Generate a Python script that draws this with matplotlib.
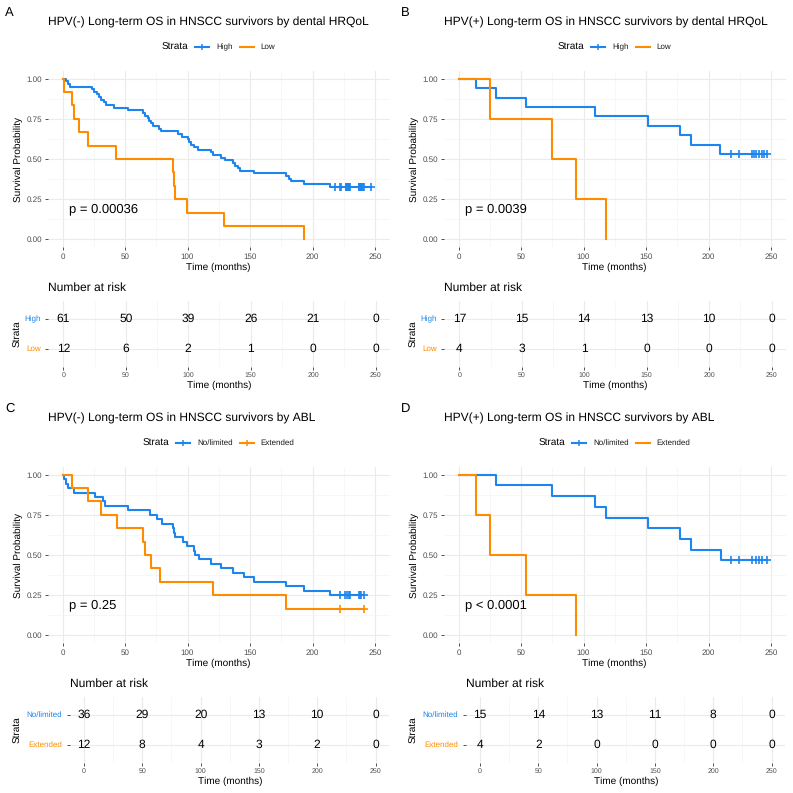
"""
Kaplan-Meier curves with number-at-risk tables (4 panels)
"""

import numpy as np
import matplotlib
matplotlib.use("Agg")
import matplotlib.pyplot as plt
from matplotlib.lines import Line2D

plt.rcParams["font.family"] = ["Liberation Sans", "DejaVu Sans"]
plt.rcParams["text.hinting"] = "no_hinting"
plt.rcParams["text.hinting_factor"] = 1

FIG_PX = 793
BLUE = "#1C86EE"
ORANGE = "#FF8C00"
TICK_GREY = "#4D4D4D"

TIME_TICKS = [0, 50, 100, 150, 200, 250]
X_LIM = (-12, 262)

# panel A: HPV(-) by dental HRQoL
A_HIGH_EVENTS = [2.5, 4.7, 6.2, 23.5, 25.5, 27.5, 29, 31, 33, 35, 41,
                 52, 64, 66, 68, 69.5, 71, 72.5, 77, 79, 92.5, 95.5,
                 100, 101.5, 103, 105, 108, 118.5, 120, 126.5, 130, 136, 138, 140, 142,
                 153, 179, 181, 183, 193, 214]
A_HIGH_CENSOR = [218, 222, 223, 226.5, 227, 227.5, 228, 228.5, 229, 229.5, 230,
                 237, 237.5, 238, 238.5, 239, 239.5, 240, 241, 246.5]
A_LOW_EVENTS = [1.5, 7.5, 9.5, 13.5, 20, 43, 88, 89, 90, 99.5, 129.5, 193.5]
A_LOW_CENSOR = []
A_RISK_HIGH = [61, 50, 39, 26, 21, 0]
A_RISK_LOW = [12, 6, 2, 1, 0, 0]

# panel B: HPV(+) by dental HRQoL
B_HIGH_EVENTS = [13.8, 29.8, 53.7, 109, 151.3, 176.9, 185.9, 209.3]
B_HIGH_CENSOR = [218, 224, 234.5, 236.5, 238, 240, 243, 244.5, 246.5]
B_LOW_EVENTS = [25, 74.5, 94, 118]
B_LOW_CENSOR = []
B_RISK_HIGH = [17, 15, 14, 13, 10, 0]
B_RISK_LOW = [4, 3, 1, 0, 0, 0]

# panel C: HPV(-) by ABL
C_NOLIM_EVENTS = [1, 2.5, 4.5, 9.5, 26, 32.6, 34,
                  52, 70, 75.7, 79.7, 88.5, 89, 90, 96.5, 99.5,
                  105, 106.3, 109, 118.6, 127, 136.5, 145,
                  153, 178.6, 193, 213.7]
C_NOLIM_CENSOR = [222, 226, 227.5, 229, 230, 237, 238, 239, 241]
C_EXT_EVENTS = [7.2, 20, 30.4, 43.7, 64.5, 66, 70.4, 77.8, 120, 178.6]
C_EXT_CENSOR = [222, 241]
C_RISK_NOLIM = [36, 29, 20, 13, 10, 0]
C_RISK_EXT = [12, 8, 4, 3, 2, 0]

# panel D: HPV(+) by ABL
D_NOLIM_EVENTS = [30, 74.8, 109, 118, 151.4, 177, 186, 209.7]
D_NOLIM_CENSOR = [218, 224, 235, 238, 240, 243, 247]
D_EXT_EVENTS = [14.2, 25, 54, 94.3]
D_EXT_CENSOR = []
D_RISK_NOLIM = [15, 14, 13, 11, 8, 0]
D_RISK_EXT = [4, 2, 0, 0, 0, 0]

DENTAL_LABELS = ["High", "Low"]
ABL_LABELS = ["No/limited", "Extended"]


def fx(x):
    return x / FIG_PX


def fy(y):
    return 1 - y / FIG_PX


def fig_rect(left, top, right, bottom):
    return [fx(left), fy(bottom), (right - left) / FIG_PX, (bottom - top) / FIG_PX]


def kaplan_meier(events, censored):
    """
    Step coordinates of the KM estimate plus the level at each censor time
    """
    events = np.asarray(events, float)
    censored = np.asarray(censored, float)
    all_times = np.concatenate([events, censored])
    xs, ys = [0.0], [1.0]
    surv = 1.0
    for t in np.unique(events):
        at_risk = np.sum(all_times >= t)
        surv *= 1 - np.sum(events == t) / at_risk
        xs.append(t)
        ys.append(surv)
    xs.append(all_times.max())
    ys.append(surv)
    cens_y = [ys[np.searchsorted(xs[:-1], c, side="right") - 1] for c in censored]
    return xs, ys, cens_y


def style_axis(ax):
    for spine in ax.spines.values():
        spine.set_visible(False)
    ax.tick_params(which="major", length=2.5, width=0.6, color="#333333",
                   labelcolor=TICK_GREY, pad=1.5)
    ax.tick_params(which="minor", length=0)
    ax.grid(which="major", color="#EBEBEB", lw=0.8)
    ax.grid(which="minor", color="#F4F4F4", lw=0.5)
    ax.set_axisbelow(True)


def draw_legend(fig, cx, cy, labels, colors, censor_flags):
    renderer = fig.canvas.get_renderer()
    gap, line_len = 7, 14
    title = fig.text(0, fy(cy), "Strata", fontsize=7.2, va="center")
    items = [fig.text(0, fy(cy), lab, fontsize=5.8, va="center", color="#1a1a1a")
             for lab in labels]
    widths = [t.get_window_extent(renderer).width for t in [title] + items]
    total = widths[0] + sum(gap + line_len + gap + w for w in widths[1:])
    x = cx - total / 2
    title.set_x(fx(x))
    x += widths[0] + gap
    for item, w, col, cens in zip(items, widths[1:], colors, censor_flags):
        fig.add_artist(Line2D([fx(x), fx(x + line_len)], [fy(cy), fy(cy)],
                              transform=fig.transFigure, color=col, lw=1.5))
        if cens:
            fig.add_artist(Line2D([fx(x + line_len / 2)], [fy(cy)], marker="+",
                                  ms=5, mew=1.1, transform=fig.transFigure, color=col))
        x += line_len + gap
        item.set_x(fx(x))
        x += w + gap


def draw_panel(fig, ox, oy, letter, title, labels, groups, risks, pval, table_x0):
    colors = [BLUE, ORANGE]
    fig.text(fx(ox + 5), fy(oy + 13), letter, fontsize=9.5, va="center")
    fig.text(fx(ox + 48), fy(oy + 22), title, fontsize=8.9, va="center")
    draw_legend(fig, ox + 218.5, oy + 47, labels, colors,
                [len(c) > 0 for _, c in groups])

    # survival curves
    x0, scale = ox + 62.5, 312.5 / 250
    y1, y0 = oy + 78.7, oy + 239.3
    ax = fig.add_axes(fig_rect(x0 + X_LIM[0] * scale, y1 - 0.05 * (y0 - y1),
                               x0 + X_LIM[1] * scale, y0 + 0.05 * (y0 - y1)))
    style_axis(ax)
    for (events, censored), col in zip(groups, colors):
        xs, ys, cens_y = kaplan_meier(events, censored)
        ax.step(xs, ys, where="post", color=col, lw=1.5)
        ax.plot(censored, cens_y, "+", color=col, ms=6, mew=1.2)
    ax.set_xlim(*X_LIM)
    ax.set_ylim(-0.05, 1.05)
    ax.set_xticks(TIME_TICKS)
    ax.set_xticks([25, 75, 125, 175, 225], minor=True)
    ax.set_yticks([0, 0.25, 0.5, 0.75, 1.0])
    ax.set_yticklabels(["0.00", "0.25", "0.50", "0.75", "1.00"])
    ax.set_yticks([0.125, 0.375, 0.625, 0.875], minor=True)
    ax.tick_params(labelsize=5.6)
    ax.text(5, 0.19, pval, fontsize=9.5, va="center")
    ax.set_xlabel("Time (months)", fontsize=7.3, va="center")
    ax.xaxis.set_label_coords(fx(ox + 218.5), fy(oy + 267), transform=fig.transFigure)
    ax.set_ylabel("Survival Probability", fontsize=7.4, va="center")
    ax.yaxis.set_label_coords(fx(ox + 18), fy(oy + 159), transform=fig.transFigure)

    # number at risk table
    tx0 = ox + table_x0
    tscale = (ox + 375.5 - tx0) / 250
    left, right = tx0 + X_LIM[0] * tscale, tx0 + X_LIM[1] * tscale
    top, bottom = oy + 300.5, oy + 366.5
    tab = fig.add_axes(fig_rect(left, top, right, bottom))
    style_axis(tab)
    tab.set_xlim(*X_LIM)
    tab.set_ylim(2.6, 0.4)
    tab.set_xticks(TIME_TICKS)
    tab.set_xticks([25, 75, 125, 175, 225], minor=True)
    tab.set_yticks([1, 2])
    tab.set_yticklabels(labels)
    tab.tick_params(axis="x", labelsize=5.1)
    tab.tick_params(axis="y", labelsize=5.9, pad=3)
    for lab, col in zip(tab.get_yticklabels(), colors):
        lab.set_color(col)
    for row, counts in enumerate(risks, start=1):
        for t, n in zip(TIME_TICKS, counts):
            tab.text(t, row, str(n), ha="center", va="center", fontsize=8.4)
    fig.text(fx(left), fy(top - 13), "Number at risk", fontsize=8.8, va="center")
    tab.set_xlabel("Time (months)", fontsize=7.3, va="center")
    tab.xaxis.set_label_coords(fx((left + right) / 2), fy(bottom + 19),
                               transform=fig.transFigure)
    tab.set_ylabel("Strata", fontsize=7.4, va="center")
    tab.yaxis.set_label_coords(fx(ox + 17.5), fy((top + bottom) / 2),
                               transform=fig.transFigure)


def main():
    fig = plt.figure(figsize=(FIG_PX / 100, FIG_PX / 100), dpi=100)

    draw_panel(fig, 0, 0, "A", "HPV(-) Long-term OS in HNSCC survivors by dental HRQoL",
               DENTAL_LABELS,
               [(A_HIGH_EVENTS, A_HIGH_CENSOR), (A_LOW_EVENTS, A_LOW_CENSOR)],
               [A_RISK_HIGH, A_RISK_LOW], "p = 0.00036", 63.3)
    draw_panel(fig, 396, 0, "B", "HPV(+) Long-term OS in HNSCC survivors by dental HRQoL",
               DENTAL_LABELS,
               [(B_HIGH_EVENTS, B_HIGH_CENSOR), (B_LOW_EVENTS, B_LOW_CENSOR)],
               [B_RISK_HIGH, B_RISK_LOW], "p = 0.0039", 63.3)
    draw_panel(fig, 0, 396, "C", "HPV(-) Long-term OS in HNSCC survivors by ABL",
               ABL_LABELS,
               [(C_NOLIM_EVENTS, C_NOLIM_CENSOR), (C_EXT_EVENTS, C_EXT_CENSOR)],
               [C_RISK_NOLIM, C_RISK_EXT], "p = 0.25", 84)
    draw_panel(fig, 396, 396, "D", "HPV(+) Long-term OS in HNSCC survivors by ABL",
               ABL_LABELS,
               [(D_NOLIM_EVENTS, D_NOLIM_CENSOR), (D_EXT_EVENTS, D_EXT_CENSOR)],
               [D_RISK_NOLIM, D_RISK_EXT], "p < 0.0001", 84)

    fig.savefig("out.png", dpi=100)


if __name__ == "__main__":
    main()
